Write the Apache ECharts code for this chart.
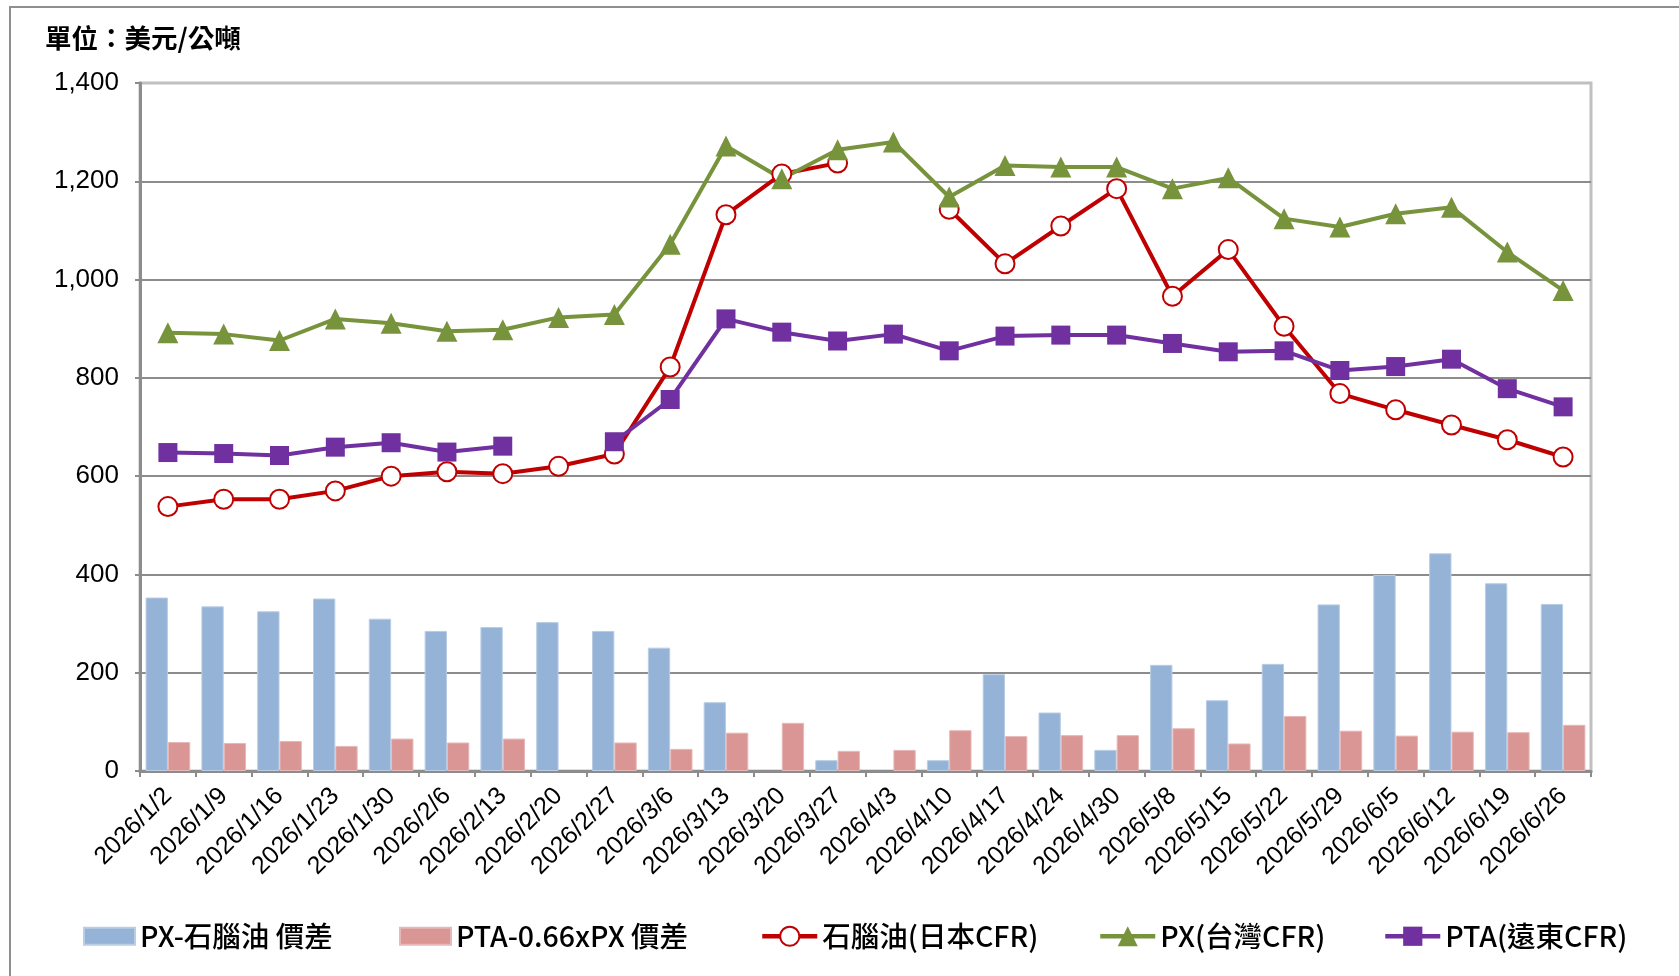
<!DOCTYPE html>
<html>
<head>
<meta charset="utf-8">
<script src="https://cdn.jsdelivr.net/npm/echarts@6/dist/echarts.min.js"></script>
<style>
    body { margin: 0; background: #fff; }
    #chart { width: 1679px; height: 976px; }
</style>
</head>
<body>
<div id="chart"></div>
<script>
let dates = ['2026/1/2', '2026/1/9', '2026/1/16', '2026/1/23', '2026/1/30', '2026/2/6', '2026/2/13', '2026/2/20', '2026/2/27', '2026/3/6', '2026/3/13', '2026/3/20', '2026/3/27', '2026/4/3', '2026/4/10', '2026/4/17', '2026/4/24', '2026/4/30', '2026/5/8', '2026/5/15', '2026/5/22', '2026/5/29', '2026/6/5', '2026/6/12', '2026/6/19', '2026/6/26'];
let px_naphtha_spread = [353, 335, 325, 351, 310, 285, 293, 303, 285, 251, 140, -3, 22, null, 22, 197, 119, 43, 216, 144, 218, 339, 399, 443, 382, 340]; // PX-石腦油 價差
let pta_px_spread = [59, 57, 61, 51, 66, 58, 66, null, 58, 45, 78, 98, 41, 43, 83, 71, 73, 73, 87, 56, 112, 82, 72, 80, 79, 94]; // PTA-0.66xPX 價差
let naphtha = [538, 553, 553, 570, 600, 609, 605, 620, 645, 822, 1132, 1215, 1237, null, 1143, 1032, 1109, 1185, 966, 1061, 905, 768, 735, 704, 674, 639]; // 石腦油(日本CFR)
let px = [892, 889, 876, 920, 911, 895, 898, 923, 929, 1072, 1272, 1205, 1264, 1280, 1168, 1232, 1229, 1229, 1185, 1207, 1124, 1107, 1134, 1147, 1056, 978]; // PX(台灣CFR)
let pta = [648, 646, 642, 659, 668, 649, 661, null, 670, 756, 920, 893, 875, 889, 855, 885, 887, 887, 870, 853, 855, 815, 823, 838, 778, 741]; // PTA(遠東CFR)
let y_ticks = [0, 200, 400, 600, 800, 1000, 1200, 1400];

let font_num = '"Liberation Sans", Arial, sans-serif';
let font_cjk = '"Noto Sans CJK TC", sans-serif';

let chart = echarts.init(document.getElementById('chart'));

// 每個圖例單獨放置
function legend_item(name, left, w, h, icon) {
    let lg = {
        data: [name],
        left: left,
        top: 917,
        itemWidth: w,
        itemHeight: h,
        lineStyle: { width: 4.5 },
        textStyle: { fontSize: 28.5, fontWeight: 500, color: '#000', fontFamily: font_cjk }
    };
    if (icon) lg.icon = icon;
    return lg;
}

let option = {
    animation: false,
    title: {
        text: '單位：美元/公噸',
        left: 40,
        top: 20,
        textStyle: { fontSize: 26.5, fontWeight: 'bold', color: '#000', fontFamily: font_cjk }
    },
    graphic: [
        {
            type: 'rect',
            shape: { x: 10, y: 7, width: 1720, height: 1020 },
            style: { fill: 'none', stroke: '#8f8f8f', lineWidth: 2 },
            silent: true
        }
    ],
    legend: [
        legend_item('PX-石腦油 價差', 78, 51, 17, 'rect'),
        legend_item('PTA-0.66xPX 價差', 394, 51, 17, 'rect'),
        legend_item('石腦油(日本CFR)', 755, 55, 24),
        legend_item('PX(台灣CFR)', 1093, 55, 25),
        legend_item('PTA(遠東CFR)', 1378, 55, 24)
    ],
    grid: {
        left: 140,
        top: 83,
        width: 1451,
        height: 688,
        show: true,
        borderColor: '#c0c0c0',
        borderWidth: 3
    },
    xAxis: {
        type: 'category',
        data: dates,
        axisLine: { lineStyle: { color: '#8c8c8c', width: 3 } },
        axisTick: { show: true, length: 6, lineStyle: { color: '#8c8c8c', width: 2 } },
        axisLabel: {
            interval: 0,
            rotate: 45,
            margin: 21,
            fontSize: 25,
            color: '#000',
            fontFamily: font_num
        }
    },
    yAxis: {
        type: 'value',
        min: y_ticks[0],
        max: y_ticks[y_ticks.length - 1],
        interval: 200,
        axisLine: { show: true, lineStyle: { color: '#8c8c8c', width: 3 } },
        axisTick: { show: true, length: 5, lineStyle: { color: '#8c8c8c', width: 2 } },
        axisLabel: {
            margin: 21,
            fontSize: 26,
            color: '#000',
            fontFamily: font_num,
            formatter: function (v) { return v.toLocaleString('en-US'); }
        },
        splitLine: {
            lineStyle: {
                color: ['#8c8c8c', '#8c8c8c', '#8c8c8c', '#8c8c8c', '#8c8c8c', '#8c8c8c', '#8c8c8c', '#c0c0c0'],
                width: 2
            }
        }
    },
    series: [
        {
            name: 'PX-石腦油 價差',
            type: 'bar',
            data: px_naphtha_spread,
            barGap: '0%',
            barCategoryGap: '20%',
            itemStyle: { color: '#95b3d7', borderColor: '#b9cde5', borderWidth: 1 }
        },
        {
            name: 'PTA-0.66xPX 價差',
            type: 'bar',
            data: pta_px_spread,
            itemStyle: { color: '#d99694', borderColor: '#e6b9b8', borderWidth: 1 }
        },
        {
            name: '石腦油(日本CFR)',
            type: 'line',
            data: naphtha,
            symbol: 'emptyCircle',
            symbolSize: 19,
            connectNulls: false,
            lineStyle: { color: '#c00000', width: 4 },
            itemStyle: { color: '#c00000', borderWidth: 2 }
        },
        {
            name: 'PX(台灣CFR)',
            type: 'line',
            data: px,
            symbol: 'triangle',
            symbolSize: 21,
            lineStyle: { color: '#77933c', width: 4 },
            itemStyle: { color: '#77933c' }
        },
        {
            name: 'PTA(遠東CFR)',
            type: 'line',
            data: pta,
            symbol: 'rect',
            symbolSize: 19,
            connectNulls: false,
            lineStyle: { color: '#7030a0', width: 4 },
            itemStyle: { color: '#7030a0' }
        }
    ]
};

chart.setOption(option);
</script>
</body>
</html>
